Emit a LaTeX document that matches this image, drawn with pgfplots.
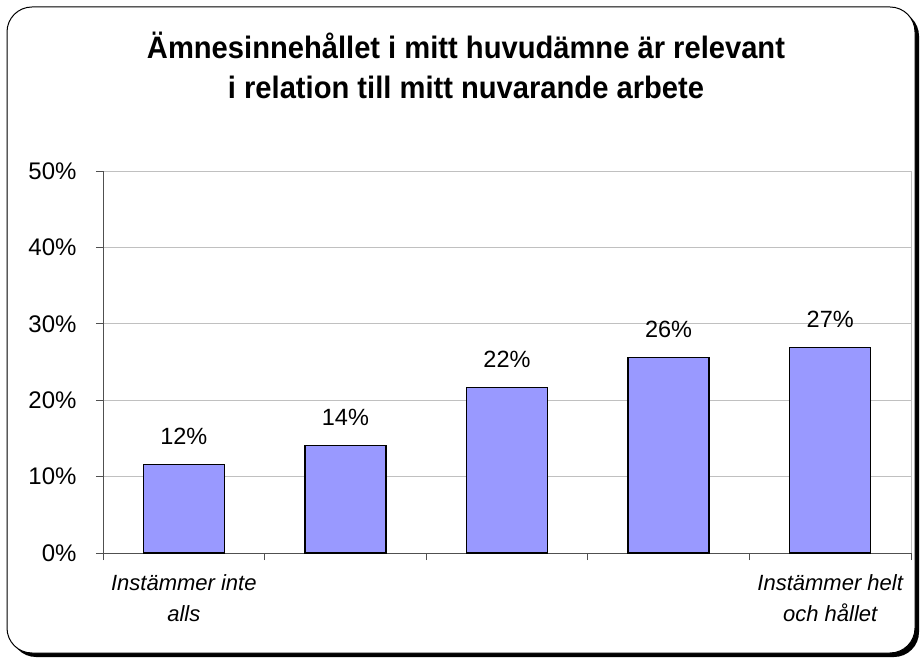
\documentclass[border=0pt]{standalone}
\usepackage{fontspec}
\setmainfont{Liberation Sans}
\newfontfamily\titlefont[FakeStretch=0.94]{Liberation Sans}
\usepackage{pgfplots}
\pgfplotsset{compat=1.18}
\definecolor{barblue}{HTML}{9999FF}
\definecolor{gridgray}{HTML}{C0C0C0}
\definecolor{axisgray}{HTML}{505050}
\begin{document}
\begin{tikzpicture}
\useasboundingbox (0,0) rectangle (921pt,659pt);
% frame with shadow
\fill[black, rounded corners=25pt] (11pt,2pt) rectangle (919pt,648pt);
\draw[black, line width=1pt, fill=white, rounded corners=25pt] (7pt,6pt) rectangle (915pt,652pt);
% title
\node[anchor=base, align=center, font=\titlefont\bfseries\fontsize{31}{40}\selectfont, inner sep=0pt]
  at (466pt,560pt) {Ämnesinnehållet i mitt huvudämne är relevant\\i relation till mitt nuvarande arbete};
\begin{axis}[
  at={(103pt,106pt)}, anchor=south west,
  scale only axis, width=808pt, height=382pt,
  xmin=0.5, xmax=5.5, ymin=0, ymax=50,
  ytick={0,10,...,50},
  yticklabel={\pgfmathprintnumber{\tick}\%},
  xtick={0.5,1.5,...,5.5}, xticklabels={},
  extra x ticks={1,5},
  extra x tick labels={{Instämmer inte\\alls},{Instämmer helt\\och hållet}},
  extra x tick style={major tick length=0pt, grid=none,
     tick label style={font=\itshape\fontsize{22}{31}\selectfont, align=center, anchor=north, yshift=-18pt}},
  axis lines*=left,
  axis line style={axisgray, line width=1pt},
  tick style={axisgray, line width=1pt},
  tick align=outside, major tick length=7pt,
  ymajorgrids, grid style={gridgray, line width=0.8pt},
  /pgf/number format/assume math mode=true,
  yticklabel style={font=\fontsize{24}{28}\selectfont, xshift=-16pt},
  every node near coord/.append style={font=\fontsize{23.5}{28}\selectfont, anchor=base, yshift=20pt, inner sep=0pt},
  nodes near coords={\pgfmathprintnumber[fixed,precision=0]{\pgfplotspointmeta}\%},
  after end axis/.code={\draw[gridgray, line width=0.8pt] (rel axis cs:1,0) -- (rel axis cs:1,1);},
  clip=false,
]
\addplot[ybar, bar width=81pt, fill=barblue, draw=black, line width=1.3pt] coordinates {
  (1,11.6) (2,14.1) (3,21.7) (4,25.6) (5,26.9)
};
\end{axis}
\end{tikzpicture}
\end{document}
